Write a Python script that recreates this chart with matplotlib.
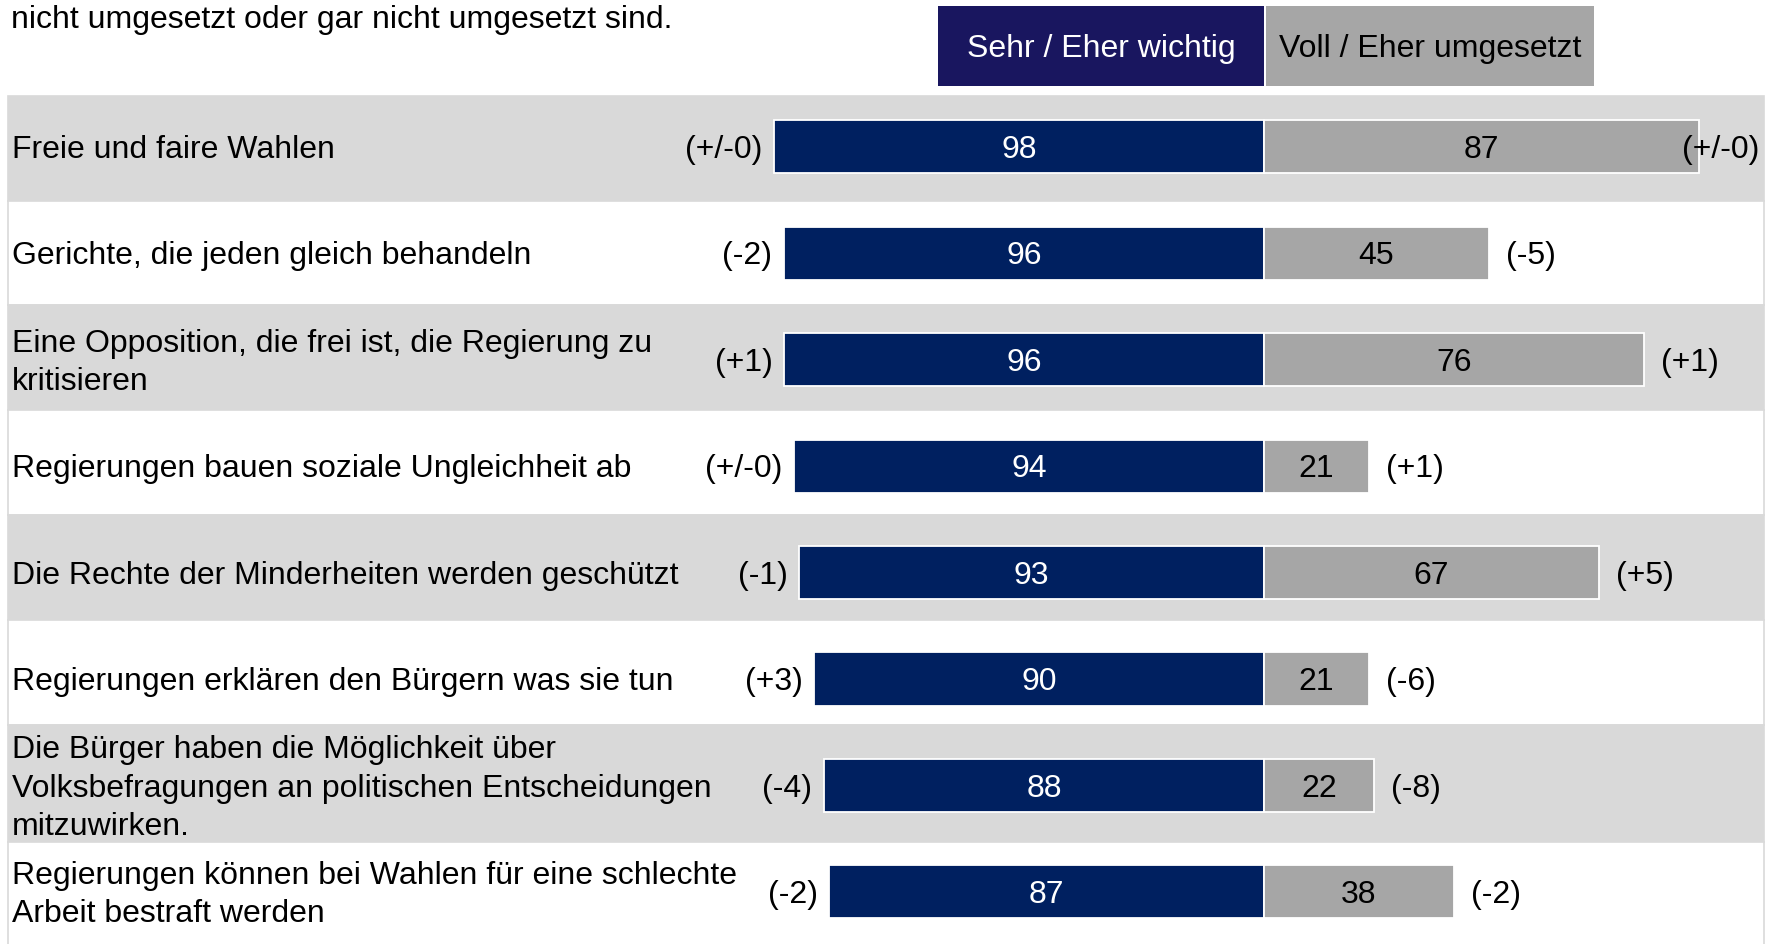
import matplotlib.pyplot as plt
from matplotlib.patches import Rectangle

plt.rcParams['font.family'] = ['Liberation Sans', 'DejaVu Sans']

# Data
labels = [
    "Freie und faire Wahlen",
    "Gerichte, die jeden gleich behandeln",
    "Eine Opposition, die frei ist, die Regierung zu\nkritisieren",
    "Regierungen bauen soziale Ungleichheit ab",
    "Die Rechte der Minderheiten werden geschützt",
    "Regierungen erklären den Bürgern was sie tun",
    "Die Bürger haben die Möglichkeit über\nVolksbefragungen an politischen Entscheidungen\nmitzuwirken.",
    "Regierungen können bei Wahlen für eine schlechte\nArbeit bestraft werden",
]
important = [98, 96, 96, 94, 93, 90, 88, 87]
implemented = [87, 45, 76, 21, 67, 21, 22, 38]
delta_important = ["(+/-0)", "(-2)", "(+1)", "(+/-0)", "(-1)", "(+3)", "(-4)", "(-2)"]
delta_implemented = ["(+/-0)", "(-5)", "(+1)", "(+1)", "(+5)", "(-6)", "(-8)", "(-2)"]
series_names = ["Sehr / Eher wichtig", "Voll / Eher umgesetzt"]

navy = '#002060'
header_navy = '#19165f'
grey = '#a6a6a6'
band = '#d9d9d9'
fs = 23
dy = 0.03  # text sits slightly lower than the bar centre

fig = plt.figure(figsize=(17.73, 9.44), dpi=100)
ax = fig.add_axes([0, 0, 1, 1])
ax.set_xlim(-252.8, 101.8)
ax.set_ylim(7.49, -1.38)
ax.axis('off')

# row bands (row 7 is a bit taller for the three-line label)
edges = [-0.48, 0.51, 1.49, 2.47, 3.46, 4.45, 5.43, 6.53, 7.6]
for i in range(len(labels)):
    fc = band if i % 2 == 0 else 'white'
    ax.add_patch(Rectangle((-251.2, edges[i]), 351.2, edges[i + 1] - edges[i],
                           facecolor=fc, edgecolor=band, linewidth=1.2, zorder=0))

y = list(range(len(labels)))
ax.barh(y, [-v for v in important], height=0.5, color=navy, edgecolor='white', linewidth=1.3, zorder=2)
ax.barh(y, implemented, height=0.5, color=grey, edgecolor='white', linewidth=1.3, zorder=2)

for i in y:
    ax.text(-250.5, i + dy, labels[i], ha='left', va='center', fontsize=fs, linespacing=1.36, zorder=3)
    ax.text(-important[i] / 2, i + dy, str(important[i]), ha='center', va='center',
            color='white', fontsize=fs, zorder=3)
    ax.text(implemented[i] / 2, i + dy, str(implemented[i]), ha='center', va='center',
            color='black', fontsize=fs, zorder=3)
    ax.text(-important[i] - 2.3, i + dy, delta_important[i], ha='right', va='center', fontsize=fs, zorder=3)
    ax.text(min(implemented[i] + 3.4, 83.6), i + dy, delta_implemented[i], ha='left', va='center',
            fontsize=fs, zorder=3)

# header boxes acting as legend
ax.add_patch(Rectangle((0.529, 0.909), 0.184, 0.085, transform=ax.transAxes,
                       facecolor=header_navy, edgecolor='none', zorder=1))
ax.add_patch(Rectangle((0.714, 0.909), 0.185, 0.085, transform=ax.transAxes,
                       facecolor=grey, edgecolor='none', zorder=1))
ax.text(0.621, 0.948, series_names[0], transform=ax.transAxes, ha='center', va='center',
        color='white', fontsize=fs)
ax.text(0.8065, 0.948, series_names[1], transform=ax.transAxes, ha='center', va='center',
        color='black', fontsize=fs)

fig.text(11 / 1773, 1 - 20 / 944, "nicht umgesetzt oder gar nicht umgesetzt sind.",
         ha='left', va='center', fontsize=fs)

fig.savefig('out.png', dpi=100)
